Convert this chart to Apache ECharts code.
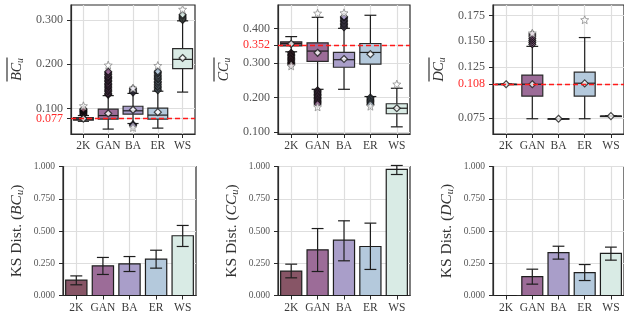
<!DOCTYPE html>
<html><head><meta charset="utf-8">
<script src="https://cdn.jsdelivr.net/npm/echarts@6/dist/echarts.min.js"></script>
<style>html,body{margin:0;padding:0;background:#fff}#c{width:624px;height:322px}</style>
</head><body><div id="c"></div>
<script>
const categories = ['2K','GAN','BA','ER','WS'];
const colors = ['#875566','#9c6c98','#a99ec9','#b4c9dc','#d9ebe5'];

// Top row: box stats [lowWhisker, Q1, median, Q3, highWhisker]
const bcBox = [[0.071,0.0735,0.076,0.0795,0.084],[0.0534,0.076,0.084,0.0985,0.129],[0.066,0.0872,0.0947,0.105,0.134],[0.0556,0.076,0.085,0.1008,0.139],[0.137,0.190,0.211,0.235,0.298]];
const bcMean = [0.077,0.0887,0.097,0.0917,0.214];
const bcOut = [[0.086,0.088,0.091,0.093,0.095,0.097,0.099],[0.131,0.134,0.138,0.141,0.144,0.148,0.151,0.154,0.157,0.161,0.164,0.167,0.170,0.173,0.177,0.180,0.183],[0.136,0.139,0.142,0.145,0.064,0.061],[0.141,0.144,0.148,0.151,0.155,0.158,0.161,0.165,0.168,0.171,0.174,0.178,0.181,0.184],[0.300,0.303,0.306,0.309,0.312]];
const bcStar = [[0.106],[0.198],[0.146,0.057],[0.197],[0.324]];
const bcRef = 0.077;
const bcTicks = [0.1,0.2,0.3];

const ccBox = [[0.333,0.350,0.357,0.362,0.377],[0.224,0.305,0.335,0.359,0.433],[0.224,0.288,0.310,0.331,0.401],[0.203,0.297,0.331,0.357,0.439],[0.115,0.153,0.169,0.182,0.227]];
const ccMean = [0.356,0.330,0.312,0.326,0.169];
const ccOut = [[0.330,0.326,0.322,0.318,0.314,0.310,0.306,0.302,0.298,0.295],[0.221,0.217,0.213,0.209,0.205,0.201,0.197,0.193,0.189,0.185,0.181],[0.404,0.408,0.412,0.416,0.420,0.424,0.428,0.432,0.435],[0.200,0.196,0.192,0.188,0.184,0.180],[]];
const ccStar = [[0.292],[0.445,0.173],[0.446],[0.175],[0.239]];
const ccRef = 0.352;
const ccTicks = [0.1,0.2,0.3,0.4];

const dcBox = [[0.108,0.108,0.108,0.108,0.108],[0.0743,0.0964,0.108,0.1169,0.145],[0.0743,0.0743,0.0743,0.0743,0.0743],[0.0743,0.0964,0.109,0.1198,0.1536],[0.0769,0.0769,0.0769,0.0769,0.0769]];
const dcMean = [0.108,0.108,0.0743,0.1088,0.0769];
const dcOut = [[],[0.147,0.149,0.151,0.153,0.155,0.157],[],[],[]];
const dcStar = [[],[0.158],[],[0.171],[]];
const dcRef = 0.108;
const dcTicks = [0.075,0.125,0.15,0.175];

// Bottom row: KS distance bars with error ranges
const ksBC = [0.119,0.230,0.245,0.282,0.463];
const ksBClo = [0.083,0.163,0.186,0.212,0.380];
const ksBChi = [0.152,0.295,0.302,0.351,0.543];
const ksCC = [0.189,0.354,0.429,0.380,0.977];
const ksCClo = [0.137,0.186,0.269,0.202,0.938];
const ksCChi = [0.243,0.519,0.579,0.561,1.008];
const ksDC = [0,0.147,0.333,0.178,0.326];
const ksDClo = [0,0.088,0.282,0.116,0.274];
const ksDChi = [0,0.204,0.382,0.240,0.375];
const ksTicks = [0,0.25,0.5,0.75,1.0];

const FONT = 'Liberation Serif';
const gridCol = '#dedede';
const spine = '#2a2a2a';

const grids = [
  {left:62, top:5, width:133, height:129},
  {left:278, top:5, width:132, height:129},
  {left:493, top:5, width:133, height:129},
  {left:63, top:166.5, width:133, height:129},
  {left:278, top:166.5, width:132, height:129},
  {left:493, top:166.5, width:133, height:129}
].map(g => Object.assign(g, {show:true, borderColor:spine, borderWidth:1.2, backgroundColor:'transparent'}));

const catIdx = categories.map((c,i)=>i);
const xAxes = grids.map((g,k) => ({
  type:'value', gridIndex:k, min:-0.5, max:4.5,
  axisLine:{show:true, onZero:false, lineStyle:{color:spine, width:1.2}},
  axisTick:{show:true, customValues:catIdx, length:4, lineStyle:{color:spine}},
  axisLabel:{customValues:catIdx, formatter:v=>categories[Math.round(v)], fontFamily:FONT, fontSize:11.5, color:'#3a3a3a', margin:6, showMinLabel:true, showMaxLabel:true},
  splitLine:{show:true, lineStyle:{color:gridCol, width:1.2}}
}));

function topTitle(main){
  return '{bar|}\n{it|'+main+'}{sub|u}';
}
function botTitle(main){
  return '{n|KS Dist. (}{it|'+main+'}{sub|u}{n|)}';
}
const titleRich = {
  bar:{width:24, height:1.2, backgroundColor:'#333', lineHeight:4},
  it:{fontFamily:FONT, fontStyle:'italic', fontSize:14, color:'#333', lineHeight:16},
  sub:{fontFamily:FONT, fontStyle:'italic', fontSize:9.5, color:'#333', lineHeight:16, padding:[7,0,0,0]}
};
const botRich = {
  it:{fontFamily:FONT, fontStyle:'italic', fontSize:15.5, color:'#333', lineHeight:18},
  sub:{fontFamily:FONT, fontStyle:'italic', fontSize:10.5, color:'#333', lineHeight:18, padding:[7,0,0,0]},
  n:{fontFamily:FONT, fontSize:15.5, color:'#333', lineHeight:18}
};

function yTop(k, min, max, ticks, ref, main){
  return {
    type:'value', gridIndex:k, min:min, max:max,
    name:topTitle(main), nameLocation:'middle', nameGap:46, nameRotate:90,
    nameTextStyle:{rich:titleRich},
    axisLine:{show:true, onZero:false, lineStyle:{color:spine, width:1.2}},
    axisTick:{show:true, customValues:ticks.concat([ref]), length:4, lineStyle:{color:spine}},
    axisLabel:{customValues:ticks, formatter:v=>Number(v).toFixed(3), fontFamily:FONT, fontSize:12,
      color:'#555', margin:8, showMinLabel:true, showMaxLabel:true},
    splitLine:{show:true, lineStyle:{color:gridCol, width:1.2}}
  };
}
function yBot(k, main){
  return {
    type:'value', gridIndex:k, min:0, max:1,
    name:botTitle(main), nameLocation:'middle', nameGap:37, nameRotate:90,
    nameTextStyle:{rich:botRich},
    axisLine:{show:true, onZero:false, lineStyle:{color:spine, width:1.2}},
    axisTick:{show:true, customValues:ksTicks, length:4, lineStyle:{color:spine}},
    axisLabel:{customValues:ksTicks, formatter:v=>Number(v).toFixed(3), fontFamily:FONT, fontSize:9.5, color:'#555', margin:8,
      showMinLabel:true, showMaxLabel:true},
    splitLine:{show:true, lineStyle:{color:gridCol, width:1.2}}
  };
}
const yAxes = [
  yTop(0, 0.0423, 0.3338, bcTicks, bcRef, 'BC'),
  yTop(1, 0.0942, 0.4688, ccTicks, ccRef, 'CC'),
  yTop(2, 0.0594, 0.1854, dcTicks, dcRef, 'DC'),
  yBot(3, 'BC'), yBot(4, 'CC'), yBot(5, 'DC')
];

function boxItem(params, api){
  const i = api.value(0);
  const unit = api.size([1,0])[0];
  const bw = unit*0.8, cw = unit*0.45;
  const x = api.coord([i, api.value(3)])[0];
  const y = j => api.coord([i, api.value(j)])[1];
  const yLo=y(1), yQ1=y(2), yMed=y(3), yQ3=y(4), yHi=y(5);
  const ls = {stroke:'#1e1e1e', lineWidth:1.2};
  return {type:'group', children:[
    {type:'line', shape:{x1:x,y1:yQ3,x2:x,y2:yHi}, style:ls},
    {type:'line', shape:{x1:x,y1:yQ1,x2:x,y2:yLo}, style:ls},
    {type:'line', shape:{x1:x-cw/2,y1:yHi,x2:x+cw/2,y2:yHi}, style:ls},
    {type:'line', shape:{x1:x-cw/2,y1:yLo,x2:x+cw/2,y2:yLo}, style:ls},
    {type:'rect', shape:{x:x-bw/2, y:yQ3, width:bw, height:Math.max(yQ1-yQ3,0.5)}, style:{fill:colors[i], stroke:'#2a2a2a', lineWidth:1.2}},
    {type:'line', shape:{x1:x-bw/2,y1:yMed,x2:x+bw/2,y2:yMed}, style:ls}
  ]};
}
function barItem(params, api){
  const i = api.value(0);
  const unit = api.size([1,0])[0];
  const bw = unit*0.8;
  const p0 = api.coord([i, 0]);
  const p1 = api.coord([i, api.value(1)]);
  return {type:'rect', shape:{x:p0[0]-bw/2, y:p1[1], width:bw, height:Math.max(p0[1]-p1[1],0)},
    style:{fill:colors[i], stroke:'#1e1e1e', lineWidth:1.2}};
}
function errItem(params, api){
  const i = api.value(0);
  const lo = api.value(1), hi = api.value(2);
  if (hi - lo <= 0) return null;
  const unit = api.size([1,0])[0];
  const cw = unit*0.45;
  const pl = api.coord([i, lo]), ph = api.coord([i, hi]);
  const x = pl[0];
  const ls = {stroke:'#1e1e1e', lineWidth:1.2};
  return {type:'group', children:[
    {type:'line', shape:{x1:x,y1:pl[1],x2:x,y2:ph[1]}, style:ls},
    {type:'line', shape:{x1:x-cw/2,y1:pl[1],x2:x+cw/2,y2:pl[1]}, style:ls},
    {type:'line', shape:{x1:x-cw/2,y1:ph[1],x2:x+cw/2,y2:ph[1]}, style:ls}
  ]};
}

const STAR = 'path://M12,1 L14.9,8.6 L23,9.2 L16.8,14.4 L18.8,22.4 L12,18 L5.2,22.4 L7.2,14.4 L1,9.2 L9.1,8.6 Z';

const series = [];
function addTop(k, box, mean, out, star, ref){
  series.push({type:'custom', xAxisIndex:k, yAxisIndex:k, renderItem:boxItem, z:2,
    data: box.map((b,i)=>[i].concat(b))});
  const od = [];
  out.forEach((arr,i)=>arr.forEach(v=>od.push({value:[i,v], itemStyle:{color:colors[i]}})));
  series.push({type:'scatter', xAxisIndex:k, yAxisIndex:k, symbol:'diamond', symbolSize:7, z:3,
    itemStyle:{borderColor:'#000', borderWidth:1.1}, data:od});
  const sd = [];
  star.forEach((arr,i)=>arr.forEach(v=>sd.push([i,v])));
  series.push({type:'scatter', xAxisIndex:k, yAxisIndex:k, symbol:STAR, symbolSize:8, z:3,
    itemStyle:{color:'#ffffff', borderColor:'#8a8a8a', borderWidth:1}, data:sd});
  const refLabel = ref.toFixed(3);
  series.push({type:'scatter', xAxisIndex:k, yAxisIndex:k, symbol:'diamond', symbolSize:7, z:4,
    itemStyle:{color:'#ffffff', borderColor:'#1a1a1a', borderWidth:1.2},
    data: mean.map((m,i)=>[i,m]),
    markLine:{silent:true, symbol:'none', z:6, precision:3,
      label:{show:true, position:'start', distance:8, formatter:()=>refLabel,
        fontFamily:FONT, fontSize:12, color:'#ff2a2a'},
      lineStyle:{color:'#ff1a1a', type:[5,3], width:1.3},
      data:[{yAxis:ref}]}});
}
addTop(0, bcBox, bcMean, bcOut, bcStar, bcRef);
addTop(1, ccBox, ccMean, ccOut, ccStar, ccRef);
addTop(2, dcBox, dcMean, dcOut, dcStar, dcRef);

function addBot(k, vals, lo, hi){
  series.push({type:'custom', xAxisIndex:k, yAxisIndex:k, renderItem:barItem, z:2,
    data: vals.map((v,i)=>[i,v])});
  series.push({type:'custom', xAxisIndex:k, yAxisIndex:k, renderItem:errItem, z:3,
    data: vals.map((v,i)=>[i,lo[i],hi[i]])});
}
addBot(3, ksBC, ksBClo, ksBChi);
addBot(4, ksCC, ksCClo, ksCChi);
addBot(5, ksDC, ksDClo, ksDChi);

const chart = echarts.init(document.getElementById('c'), null, {renderer:'canvas'});
chart.setOption({
  animation:false,
  backgroundColor:'#ffffff',
  grid:grids, xAxis:xAxes, yAxis:yAxes, series:series
});
</script></body></html>
